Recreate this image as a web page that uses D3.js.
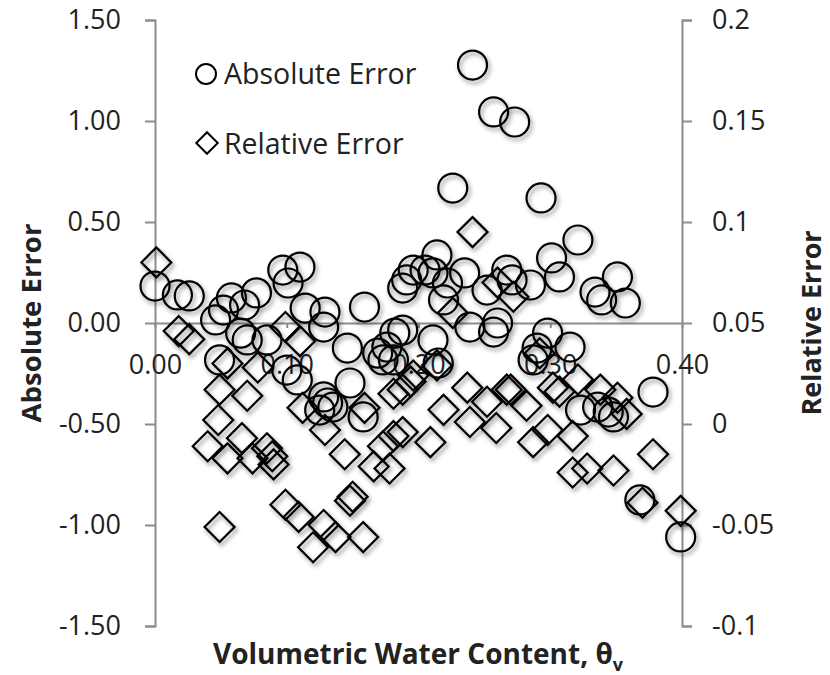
<!DOCTYPE html>
<html>
<head>
<meta charset="utf-8">
<script src="https://cdn.jsdelivr.net/npm/d3@7"></script>
<style>
  body { margin: 0; background: #fff; }
  svg { display: block; font-family: "Open Sans", sans-serif; }
</style>
</head>
<body>
<svg width="830" height="675"></svg>
<script>
// absolute error (left axis)
var absTheta = [0.000, 0.017, 0.026, 0.046, 0.052, 0.058, 0.068, 0.077, 0.097, 0.110, 0.101, 0.065, 0.049, 0.070, 0.085,
  0.100, 0.108, 0.114, 0.129, 0.128, 0.146, 0.159, 0.148, 0.128, 0.125, 0.135, 0.158, 0.176, 0.182, 0.188,
  0.173, 0.181, 0.211, 0.191, 0.196, 0.205, 0.211, 0.219, 0.241, 0.257, 0.273, 0.226, 0.214, 0.188, 0.222,
  0.235, 0.252, 0.267, 0.271, 0.260, 0.293, 0.321, 0.301, 0.307, 0.285, 0.334, 0.351, 0.339, 0.357, 0.298,
  0.239, 0.290, 0.315, 0.287, 0.378, 0.323, 0.336, 0.348, 0.368, 0.399, 0.169, 0.215, 0.131, 0.344, 0.257];
var absErr = [0.183, 0.139, 0.134, 0.015, 0.064, 0.124, 0.089, 0.149, 0.262, 0.277, 0.198, -0.050, -0.183, -0.084, -0.084,
  -0.233, -0.282, 0.074, 0.054, -0.020, -0.124, 0.079, -0.297, -0.366, -0.431, -0.416, -0.465, -0.119, -0.050, -0.035,
  -0.183, -0.183, -0.084, 0.213, 0.262, 0.262, 0.248, 0.114, 1.277, 1.045, 0.995, 0.668, 0.337, 0.173, 0.198,
  0.248, 0.163, 0.262, 0.213, 0.000, 0.619, 0.411, 0.322, 0.228, 0.188, 0.153, 0.228, 0.114, 0.099, -0.050,
  -0.020, -0.124, -0.119, -0.183, -0.342, -0.431, -0.416, -0.465, -0.876, -1.059, -0.149, -0.198, -0.396, -0.441, -0.045];

// relative error (right axis)
var relTheta = [0.001, 0.018, 0.026, 0.055, 0.078, 0.099, 0.110, 0.049, 0.070, 0.048, 0.040, 0.055, 0.066, 0.074, 0.085,
  0.089, 0.090, 0.112, 0.129, 0.049, 0.099, 0.109, 0.128, 0.120, 0.137, 0.158, 0.148, 0.150, 0.144, 0.166,
  0.178, 0.173, 0.181, 0.188, 0.209, 0.239, 0.259, 0.287, 0.219, 0.188, 0.194, 0.196, 0.214, 0.237, 0.252,
  0.267, 0.282, 0.159, 0.241, 0.272, 0.260, 0.226, 0.292, 0.321, 0.302, 0.270, 0.307, 0.351, 0.358, 0.298,
  0.317, 0.317, 0.328, 0.348, 0.378, 0.370, 0.399, 0.338, 0.181];
var relErr = [0.080, 0.046, 0.042, 0.030, 0.028, 0.048, 0.041, 0.017, 0.014, 0.002, -0.011, -0.017, -0.007, -0.017, -0.012,
  -0.016, -0.020, 0.008, -0.003, -0.051, -0.040, -0.046, -0.050, -0.061, -0.056, -0.056, -0.038, -0.036, -0.015, -0.021,
  -0.022, -0.011, -0.006, -0.004, -0.009, 0.001, -0.002, -0.009, 0.007, 0.017, 0.021, 0.024, 0.029, 0.018, 0.011,
  0.017, 0.009, 0.008, 0.095, 0.063, 0.070, 0.055, 0.035, 0.022, 0.018, 0.017, 0.016, 0.013, 0.005, -0.003,
  -0.006, -0.024, -0.022, -0.023, -0.015, -0.039, -0.043, 0.017, 0.015];

var xTicks = [0, 0.1, 0.2, 0.3, 0.4],
  leftTicks = [-1.5, -1, -0.5, 0, 0.5, 1, 1.5],
  rightTicks = [-0.1, -0.05, 0, 0.05, 0.1, 0.15, 0.2];

function drawChart() {
  var svg = d3.select("svg");
  var axisColor = "#8c8c8c",
    textColor = "#222";

  var x = d3.scaleLinear().domain([0, 0.4]).range([155, 682]),
    yL = d3.scaleLinear().domain([-1.5, 1.5]).range([626, 20]),
    yR = d3.scaleLinear().domain([-0.1, 0.2]).range([626, 20]);

  // soft shadow like the spreadsheet markers
  var f = svg.append("defs").append("filter").attr("id", "shadow")
    .attr("x", "-30%").attr("y", "-30%").attr("width", "170%").attr("height", "170%");
  f.append("feDropShadow").attr("dx", 2).attr("dy", 3).attr("stdDeviation", 2)
    .attr("flood-color", "#000").attr("flood-opacity", 0.45);

  function styleAxis(g) {
    g.select(".domain").attr("stroke", axisColor).attr("stroke-width", 2);
    g.selectAll(".tick line").attr("stroke", axisColor).attr("stroke-width", 2);
    g.selectAll(".tick text").attr("fill", textColor).style("font-size", "27px")
      .style("font-family", "'Open Sans', sans-serif");
  }

  var axisL = d3.axisLeft(yL).tickValues(leftTicks).tickFormat(d => d.toFixed(2))
    .tickSizeInner(10).tickSizeOuter(10).tickPadding(24);
  svg.append("g").attr("transform", "translate(155,0)").call(axisL).call(styleAxis);

  var axisR = d3.axisRight(yR).tickValues(rightTicks).tickFormat(d => String(+d.toFixed(2)))
    .tickSizeInner(10).tickSizeOuter(10).tickPadding(20);
  svg.append("g").attr("transform", "translate(682,0)").call(axisR).call(styleAxis);

  var axisX = d3.axisBottom(x).tickValues(xTicks).tickFormat(d => d.toFixed(2))
    .tickSizeInner(5).tickSizeOuter(0).tickPadding(27);
  svg.append("g").attr("transform", "translate(0," + yL(0) + ")").call(axisX).call(styleAxis);

  // axis titles
  svg.append("text")
    .attr("transform", "translate(30," + yL(0) + ") rotate(-90)")
    .attr("text-anchor", "middle").attr("dominant-baseline", "central")
    .attr("fill", textColor).style("font-size", "27.5px").style("font-weight", "bold")
    .text("Absolute Error");
  svg.append("text")
    .attr("transform", "translate(810," + yL(0) + ") rotate(-90)")
    .attr("text-anchor", "middle").attr("dominant-baseline", "central")
    .attr("fill", textColor).style("font-size", "27px").style("font-weight", "bold")
    .text("Relative Error");
  var xt = svg.append("text")
    .attr("x", 418).attr("y", 664)
    .attr("text-anchor", "middle")
    .attr("fill", textColor).style("font-size", "28px").style("font-weight", "bold");
  xt.append("tspan").text("Volumetric Water Content, θ");
  xt.append("tspan").attr("dy", 7).style("font-size", "18px").text("v");

  // markers
  var marks = svg.append("g").attr("filter", "url(#shadow)")
    .attr("fill", "none").attr("stroke", "#000").attr("stroke-width", 2.2);

  marks.append("g").selectAll("circle")
    .data(absTheta)
    .enter()
    .append("circle")
    .attr("cx", d => x(d))
    .attr("cy", (d, i) => yL(absErr[i]))
    .attr("r", 14.5);

  var diamond = d3.symbol().type(d3.symbolSquare).size(450);
  marks.append("g").selectAll("path")
    .data(relTheta)
    .enter()
    .append("path")
    .attr("d", diamond)
    .attr("transform", (d, i) => "translate(" + x(d) + "," + yR(relErr[i]) + ") rotate(45)");

  // legend
  var leg = svg.append("g");
  leg.append("circle").attr("cx", 206).attr("cy", 74).attr("r", 10)
    .attr("fill", "none").attr("stroke", "#000").attr("stroke-width", 2);
  leg.append("path").attr("d", d3.symbol().type(d3.symbolSquare).size(230))
    .attr("transform", "translate(207,143) rotate(45)")
    .attr("fill", "none").attr("stroke", "#000").attr("stroke-width", 2);
  leg.append("text").attr("x", 224).attr("y", 84).attr("fill", textColor)
    .style("font-size", "28.5px").text("Absolute Error");
  leg.append("text").attr("x", 224).attr("y", 154).attr("fill", textColor)
    .style("font-size", "28.5px").text("Relative Error");
}

drawChart();
</script>
</body>
</html>
